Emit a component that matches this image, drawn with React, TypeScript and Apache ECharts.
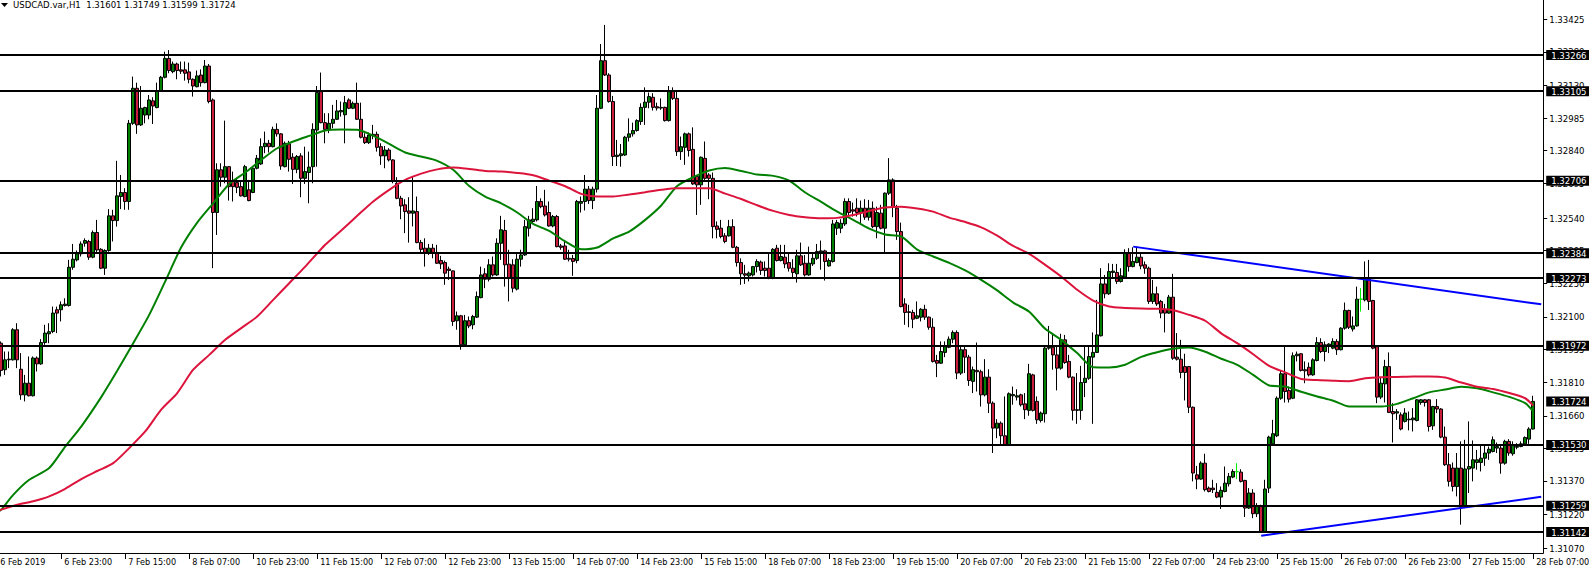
import React, { useEffect, useRef } from "react";
import * as echarts from "echarts";

const FONT = '"DejaVu Sans Condensed", "Liberation Sans", Arial, sans-serif';
const TITLE = "USDCAD.var,H1  1.31601 1.31749 1.31599 1.31724";

const X_TICK_STEP = 16;
const X_TICK_LABELS = [
  "6 Feb 2019", "6 Feb 23:00", "7 Feb 15:00", "8 Feb 07:00", "10 Feb 23:00", "11 Feb 15:00",
  "12 Feb 07:00", "12 Feb 23:00", "13 Feb 15:00", "14 Feb 07:00", "14 Feb 23:00", "15 Feb 15:00",
  "18 Feb 07:00", "18 Feb 23:00", "19 Feb 15:00", "20 Feb 07:00", "20 Feb 23:00", "21 Feb 15:00",
  "22 Feb 07:00", "24 Feb 23:00", "25 Feb 15:00", "26 Feb 07:00", "26 Feb 23:00", "27 Feb 15:00",
  "28 Feb 07:00",
];

const Y_TICKS = [
  1.3107, 1.3122, 1.3137, 1.31515, 1.3166, 1.3181, 1.31955, 1.321, 1.3225,
  1.32395, 1.3254, 1.32695, 1.3284, 1.32985, 1.3313, 1.3328, 1.33425,
];
const Y_MIN = 1.31049;
const Y_MAX = 1.33511;

const LEVELS = [1.33266, 1.33105, 1.32706, 1.32384, 1.32273, 1.31972, 1.3153, 1.31259, 1.31142];
const LAST_PRICE = 1.31724;

const TREND_UPPER = [[284, 1.32413], [386, 1.32156]];
const TREND_LOWER = [[316, 1.31126], [386, 1.31299]];

const EMPTY_BARS_RIGHT = 2;
const LIME_DOJI = [310, 341];

// [open, high, low, close], hourly bars from 6 Feb 07:00 to 28 Feb 07:00
const OHLC = [
  /*0*/[1.31950,1.31995,1.31930,1.31983],[1.31983,1.31991,1.31835,1.31862],[1.31865,1.31946,1.31842,1.31909],[1.31909,1.31946,1.31872,1.31912],
  /*4*/[1.31909,1.32050,1.31906,1.32043],[1.32043,1.32072,1.31872,1.31909],[1.31867,1.31939,1.31731,1.31753],[1.31753,1.31842,1.31724,1.31805],
  /*8*/[1.31805,1.31924,1.31746,1.31749],[1.31749,1.31924,1.31746,1.31917],[1.31917,1.31924,1.31857,1.31891],[1.31891,1.32001,1.31887,1.31986],
  /*12*/[1.31986,1.32065,1.31976,1.32028],[1.32025,1.32072,1.31983,1.32034],[1.32035,1.32146,1.32028,1.32117],[1.32132,1.32146,1.32028,1.32117],
  /*16*/[1.32132,1.32169,1.32080,1.32154],[1.32151,1.32183,1.32146,1.32157],[1.32151,1.32354,1.32146,1.32321],[1.32321,1.32425,1.32310,1.32357],
  /*20*/[1.32354,1.32396,1.32347,1.32381],[1.32381,1.32436,1.32369,1.32425],[1.32428,1.32450,1.32413,1.32440],[1.32436,1.32443,1.32354,1.32366],
  /*24*/[1.32366,1.32485,1.32361,1.32476],[1.32476,1.32532,1.32384,1.32398],[1.32401,1.32406,1.32313,1.32317],[1.32317,1.32401,1.32287,1.32396],
  /*28*/[1.32396,1.32580,1.32390,1.32550],[1.32550,1.32577,1.32436,1.32529],[1.32529,1.32795,1.32502,1.32639],[1.32636,1.32732,1.32580,1.32654],
  /*32*/[1.32654,1.32673,1.32577,1.32614],[1.32614,1.32977,1.32577,1.32962],[1.32962,1.33170,1.32955,1.33118],[1.33118,1.33143,1.32915,1.32955],
  /*36*/[1.32955,1.33128,1.32950,1.33029],[1.32999,1.33036,1.32962,1.33032],[1.32999,1.33088,1.32980,1.33066],[1.33062,1.33078,1.32959,1.33039],
  /*40*/[1.33032,1.33143,1.33029,1.33106],[1.33106,1.33173,1.33103,1.33167],[1.33167,1.33281,1.33162,1.33251],[1.33251,1.33288,1.33185,1.33197],
  /*44*/[1.33192,1.33237,1.33185,1.33226],[1.33226,1.33232,1.33158,1.33197],[1.33200,1.33237,1.33182,1.33194],[1.33200,1.33237,1.33152,1.33185],
  /*48*/[1.33191,1.33232,1.33140,1.33158],[1.33158,1.33162,1.33081,1.33128],[1.33125,1.33197,1.33122,1.33173],[1.33177,1.33202,1.33125,1.33143],
  /*52*/[1.33143,1.33244,1.33140,1.33217],[1.33217,1.33226,1.33051,1.33059],[1.33066,1.33073,1.32317,1.32565],[1.32565,1.32784,1.32465,1.32755],
  /*56*/[1.32755,1.32784,1.32680,1.32722],[1.32722,1.32974,1.32695,1.32769],[1.32769,1.32772,1.32618,1.32680],[1.32703,1.32747,1.32614,1.32680],
  /*60*/[1.32698,1.32717,1.32651,1.32677],[1.32680,1.32703,1.32636,1.32639],[1.32636,1.32777,1.32633,1.32769],[1.32666,1.32710,1.32615,1.32618],
  /*64*/[1.32654,1.32769,1.32651,1.32762],[1.32762,1.32821,1.32757,1.32806],[1.32781,1.32895,1.32777,1.32858],[1.32858,1.32925,1.32829,1.32873],
  /*68*/[1.32873,1.32888,1.32832,1.32858],[1.32858,1.32947,1.32855,1.32935],[1.32935,1.32962,1.32903,1.32915],[1.32915,1.32918,1.32755,1.32772],
  /*72*/[1.32769,1.32881,1.32766,1.32873],[1.32870,1.32884,1.32747,1.32802],[1.32811,1.32829,1.32692,1.32757],[1.32757,1.32821,1.32740,1.32814],
  /*76*/[1.32817,1.32829,1.32633,1.32717],[1.32717,1.32858,1.32692,1.32747],[1.32743,1.32836,1.32606,1.32767],[1.32769,1.32962,1.32695,1.32935],
  /*80*/[1.32932,1.33128,1.32769,1.33099],[1.33103,1.33188,1.32962,1.32965],[1.32965,1.33007,1.32873,1.32935],[1.32935,1.33007,1.32918,1.32962],
  /*84*/[1.32962,1.33044,1.32940,1.32980],[1.32980,1.33066,1.32977,1.33017],[1.33013,1.33059,1.32992,1.33019],[1.33000,1.33084,1.32873,1.33054],
  /*88*/[1.33066,1.33073,1.33025,1.33029],[1.33029,1.33059,1.33025,1.33051],[1.33051,1.33143,1.32977,1.32980],[1.32980,1.33054,1.32895,1.32900],
  /*92*/[1.32900,1.32918,1.32870,1.32876],[1.32876,1.32921,1.32870,1.32910],[1.32907,1.32955,1.32891,1.32913],[1.32913,1.32925,1.32836,1.32855],
  /*96*/[1.32858,1.32873,1.32777,1.32817],[1.32817,1.32861,1.32762,1.32843],[1.32843,1.32851,1.32792,1.32799],[1.32799,1.32802,1.32695,1.32703],
  /*100*/[1.32695,1.32722,1.32624,1.32628],[1.32628,1.32639,1.32535,1.32594],[1.32599,1.32624,1.32473,1.32569],[1.32572,1.32633,1.32431,1.32562],
  /*104*/[1.32562,1.32725,1.32503,1.32572],[1.32569,1.32636,1.32428,1.32431],[1.32431,1.32443,1.32384,1.32401],[1.32406,1.32450,1.32324,1.32387],
  /*108*/[1.32387,1.32425,1.32376,1.32406],[1.32406,1.32425,1.32361,1.32387],[1.32387,1.32421,1.32336,1.32339],[1.32351,1.32372,1.32313,1.32336],
  /*112*/[1.32342,1.32351,1.32243,1.32295],[1.32313,1.32324,1.32265,1.32307],[1.32305,1.32307,1.32060,1.32080],[1.32083,1.32124,1.32043,1.32105],
  /*116*/[1.32105,1.32109,1.31954,1.31976],[1.31976,1.32109,1.31971,1.32083],[1.32083,1.32102,1.32050,1.32060],[1.32065,1.32109,1.32045,1.32102],
  /*120*/[1.32099,1.32213,1.32095,1.32191],[1.32186,1.32324,1.32183,1.32287],[1.32292,1.32317,1.32228,1.32268],[1.32268,1.32357,1.32258,1.32332],
  /*124*/[1.32332,1.32369,1.32280,1.32287],[1.32287,1.32450,1.32283,1.32428],[1.32428,1.32550,1.32354,1.32488],[1.32485,1.32532,1.32235,1.32332],
  /*128*/[1.32335,1.32399,1.32169,1.32272],[1.32332,1.32357,1.32209,1.32228],[1.32224,1.32384,1.32218,1.32357],[1.32357,1.32399,1.32324,1.32376],
  /*132*/[1.32376,1.32532,1.32372,1.32502],[1.32495,1.32550,1.32458,1.32532],[1.32525,1.32584,1.32514,1.32535],[1.32532,1.32683,1.32525,1.32614],
  /*136*/[1.32614,1.32628,1.32584,1.32591],[1.32594,1.32666,1.32547,1.32554],[1.32565,1.32614,1.32502,1.32505],[1.32505,1.32554,1.32499,1.32547],
  /*140*/[1.32547,1.32554,1.32410,1.32413],[1.32416,1.32425,1.32399,1.32410],[1.32416,1.32443,1.32354,1.32357],[1.32361,1.32399,1.32347,1.32357],
  /*144*/[1.32360,1.32376,1.32283,1.32347],[1.32351,1.32621,1.32339,1.32614],[1.32606,1.32636,1.32565,1.32614],[1.32614,1.32732,1.32574,1.32669],
  /*148*/[1.32669,1.32683,1.32603,1.32618],[1.32618,1.32680,1.32580,1.32669],[1.32669,1.33088,1.32654,1.33029],[1.33029,1.33315,1.33025,1.33241],
  /*152*/[1.33241,1.33400,1.33173,1.33177],[1.33177,1.33185,1.33054,1.33059],[1.33059,1.33084,1.32772,1.32814],[1.32814,1.32888,1.32772,1.32820],
  /*156*/[1.32818,1.32870,1.32769,1.32826],[1.32821,1.32906,1.32817,1.32900],[1.32900,1.32984,1.32881,1.32915],[1.32915,1.32965,1.32903,1.32930],
  /*160*/[1.32930,1.32980,1.32925,1.32974],[1.32970,1.33051,1.32955,1.33033],[1.33033,1.33122,1.32955,1.33056],[1.33056,1.33099,1.33029,1.33081],
  /*164*/[1.33078,1.33096,1.33019,1.33033],[1.33036,1.33054,1.33019,1.33030],[1.33030,1.33073,1.33022,1.33033],[1.33033,1.33036,1.32970,1.32974],
  /*168*/[1.32974,1.33128,1.32970,1.33103],[1.33103,1.33122,1.33066,1.33073],[1.33073,1.33110,1.32817,1.32836],[1.32836,1.32903,1.32799,1.32858],
  /*172*/[1.32855,1.32921,1.32777,1.32915],[1.32915,1.32921,1.32814,1.32841],[1.32846,1.32944,1.32688,1.32692],[1.32725,1.32732,1.32554,1.32688],
  /*176*/[1.32688,1.32814,1.32599,1.32811],[1.32806,1.32881,1.32710,1.32717],[1.32732,1.32740,1.32624,1.32717],[1.32717,1.32743,1.32450,1.32502],
  /*180*/[1.32505,1.32525,1.32450,1.32490],[1.32495,1.32532,1.32450,1.32458],[1.32461,1.32473,1.32428,1.32436],[1.32461,1.32532,1.32458,1.32502],
  /*184*/[1.32502,1.32535,1.32406,1.32410],[1.32410,1.32416,1.32324,1.32342],[1.32342,1.32361,1.32243,1.32292],[1.32292,1.32332,1.32247,1.32286],
  /*188*/[1.32283,1.32302,1.32258,1.32295],[1.32287,1.32327,1.32280,1.32324],[1.32324,1.32357,1.32298,1.32347],[1.32344,1.32351,1.32287,1.32307],
  /*192*/[1.32317,1.32347,1.32280,1.32307],[1.32317,1.32387,1.32268,1.32277],[1.32272,1.32406,1.32268,1.32401],[1.32406,1.32421,1.32347,1.32351],
  /*196*/[1.32351,1.32421,1.32347,1.32369],[1.32366,1.32421,1.32317,1.32336],[1.32342,1.32384,1.32302,1.32317],[1.32317,1.32357,1.32277,1.32298],
  /*200*/[1.32292,1.32399,1.32253,1.32372],[1.32372,1.32431,1.32327,1.32332],[1.32339,1.32376,1.32280,1.32287],[1.32287,1.32413,1.32283,1.32339],
  /*204*/[1.32336,1.32384,1.32327,1.32361],[1.32361,1.32425,1.32354,1.32391],[1.32390,1.32440,1.32310,1.32394],[1.32394,1.32399,1.32262,1.32347],
  /*208*/[1.32327,1.32361,1.32324,1.32351],[1.32347,1.32532,1.32342,1.32514],[1.32495,1.32532,1.32465,1.32520],[1.32495,1.32535,1.32473,1.32517],
  /*212*/[1.32514,1.32628,1.32505,1.32614],[1.32614,1.32628,1.32547,1.32565],[1.32577,1.32609,1.32547,1.32571],[1.32584,1.32628,1.32547,1.32565],
  /*216*/[1.32565,1.32618,1.32517,1.32584],[1.32584,1.32624,1.32532,1.32544],[1.32544,1.32621,1.32529,1.32584],[1.32584,1.32614,1.32495,1.32502],
  /*220*/[1.32502,1.32591,1.32450,1.32565],[1.32562,1.32599,1.32490,1.32495],[1.32495,1.32654,1.32387,1.32651],[1.32651,1.32807,1.32643,1.32710],
  /*224*/[1.32710,1.32717,1.32544,1.32591],[1.32584,1.32599,1.32443,1.32480],[1.32480,1.32520,1.32143,1.32146],[1.32158,1.32183,1.32065,1.32120],
  /*228*/[1.32123,1.32154,1.32054,1.32120],[1.32120,1.32132,1.32050,1.32090],[1.32094,1.32169,1.32090,1.32105],[1.32099,1.32139,1.32080,1.32134],
  /*232*/[1.32134,1.32154,1.32087,1.32099],[1.32099,1.32102,1.32043,1.32054],[1.32054,1.32094,1.31897,1.31902],[1.31906,1.31931,1.31832,1.31894],
  /*236*/[1.31894,1.31991,1.31891,1.31946],[1.31942,1.31991,1.31921,1.31968],[1.31965,1.32013,1.31961,1.32001],[1.32001,1.32040,1.31983,1.32031],
  /*240*/[1.32031,1.32040,1.31823,1.31850],[1.31850,1.31971,1.31842,1.31954],[1.31954,1.31968,1.31850,1.31921],[1.31921,1.31931,1.31793,1.31817],
  /*244*/[1.31813,1.31879,1.31761,1.31865],[1.31862,1.31986,1.31768,1.31856],[1.31856,1.31865,1.31701,1.31753],[1.31753,1.31912,1.31746,1.31832],
  /*248*/[1.31832,1.31867,1.31672,1.31716],[1.31716,1.31724,1.31494,1.31605],[1.31605,1.31645,1.31560,1.31627],[1.31627,1.31635,1.31531,1.31571],
  /*252*/[1.31571,1.31746,1.31526,1.31531],[1.31531,1.31764,1.31526,1.31758],[1.31749,1.31790,1.31709,1.31755],[1.31743,1.31778,1.31728,1.31749],
  /*256*/[1.31753,1.31758,1.31701,1.31709],[1.31713,1.31761,1.31645,1.31687],[1.31684,1.31891,1.31660,1.31847],[1.31842,1.31847,1.31679,1.31684],
  /*260*/[1.31724,1.31746,1.31624,1.31642],[1.31639,1.31679,1.31630,1.31672],[1.31669,1.31968,1.31630,1.31961],[1.31961,1.32060,1.31954,1.31965],
  /*264*/[1.31965,1.32020,1.31865,1.31931],[1.31931,1.31968,1.31773,1.31872],[1.31872,1.32025,1.31865,1.31998],[1.31998,1.32020,1.31891,1.31897],
  /*268*/[1.31902,1.31931,1.31827,1.31832],[1.31832,1.31835,1.31639,1.31684],[1.31684,1.31850,1.31624,1.31687],[1.31684,1.31882,1.31642,1.31808],
  /*272*/[1.31808,1.31968,1.31743,1.31827],[1.31827,1.31968,1.31820,1.31924],[1.31921,1.32031,1.31624,1.31942],[1.31942,1.32176,1.31939,1.32020],
  /*276*/[1.32016,1.32317,1.32013,1.32247],[1.32247,1.32287,1.32183,1.32203],[1.32203,1.32339,1.32198,1.32302],[1.32298,1.32336,1.32277,1.32304],
  /*280*/[1.32298,1.32336,1.32247,1.32258],[1.32258,1.32317,1.32253,1.32283],[1.32277,1.32401,1.32272,1.32384],[1.32384,1.32406,1.32302,1.32324],
  /*284*/[1.32324,1.32410,1.32321,1.32347],[1.32342,1.32413,1.32339,1.32366],[1.32366,1.32384,1.32312,1.32327],[1.32332,1.32347,1.32292,1.32317],
  /*288*/[1.32317,1.32324,1.32158,1.32169],[1.32169,1.32265,1.32158,1.32203],[1.32203,1.32235,1.32149,1.32158],[1.32169,1.32176,1.32094,1.32117],
  /*292*/[1.32134,1.32158,1.32031,1.32117],[1.32117,1.32198,1.32114,1.32188],[1.32188,1.32292,1.31909,1.31916],[1.31921,1.32028,1.31906,1.31912],
  /*296*/[1.31912,1.31998,1.31827,1.31853],[1.31879,1.31936,1.31728,1.31853],[1.31879,1.31882,1.31672,1.31698],[1.31698,1.31701,1.31368,1.31405],
  /*300*/[1.31397,1.31437,1.31333,1.31378],[1.31378,1.31457,1.31375,1.31449],[1.31449,1.31491,1.31323,1.31331],[1.31338,1.31345,1.31319,1.31323],
  /*304*/[1.31338,1.31375,1.31316,1.31331],[1.31319,1.31360,1.31293,1.31298],[1.31298,1.31345,1.31245,1.31328],[1.31323,1.31434,1.31319,1.31360],
  /*308*/[1.31357,1.31405,1.31345,1.31390],[1.31387,1.31422,1.31382,1.31412],[1.31411,1.31449,1.31378,1.31411],[1.31409,1.31422,1.31363,1.31368],
  /*312*/[1.31372,1.31375,1.31209,1.31249],[1.31249,1.31338,1.31245,1.31316],[1.31316,1.31333,1.31204,1.31224],[1.31224,1.31271,1.31209,1.31256],
  /*316*/[1.31256,1.31264,1.31138,1.31141],[1.31141,1.31375,1.31138,1.31334],[1.31338,1.31571,1.31316,1.31565],[1.31535,1.31642,1.31526,1.31580],
  /*320*/[1.31571,1.31746,1.31565,1.31738],[1.31738,1.31862,1.31731,1.31847],[1.31847,1.31971,1.31719,1.31768],[1.31773,1.31790,1.31719,1.31734],
  /*324*/[1.31738,1.31942,1.31734,1.31927],[1.31927,1.31946,1.31902,1.31934],[1.31936,1.31939,1.31857,1.31862],[1.31865,1.31902,1.31805,1.31860],
  /*328*/[1.31876,1.31897,1.31835,1.31842],[1.31842,1.31916,1.31838,1.31909],[1.31906,1.32010,1.31902,1.31986],[1.31986,1.32005,1.31939,1.31946],
  /*332*/[1.31946,1.31991,1.31902,1.31976],[1.31971,1.31983,1.31939,1.31979],[1.31961,1.32005,1.31956,1.31991],[1.31991,1.32001,1.31931,1.31954],
  /*336*/[1.31954,1.32054,1.31951,1.32050],[1.32050,1.32164,1.32043,1.32129],[1.32129,1.32132,1.32046,1.32054],[1.32046,1.32102,1.32035,1.32060],
  /*340*/[1.32060,1.32235,1.32057,1.32179],[1.32179,1.32228,1.32124,1.32179],[1.32176,1.32347,1.32169,1.32268],[1.32268,1.32354,1.32131,1.32169],
  /*344*/[1.32173,1.32176,1.31956,1.31961],[1.31968,1.31971,1.31716,1.31743],[1.31743,1.31832,1.31734,1.31805],[1.31802,1.31909,1.31719,1.31879],
  /*348*/[1.31879,1.31942,1.31672,1.31675],[1.31679,1.31716,1.31541,1.31669],[1.31672,1.31690,1.31642,1.31678],[1.31664,1.31675,1.31595,1.31601],
  /*352*/[1.31635,1.31694,1.31630,1.31672],[1.31642,1.31679,1.31595,1.31645],[1.31642,1.31694,1.31590,1.31650],[1.31639,1.31734,1.31635,1.31731],
  /*356*/[1.31719,1.31734,1.31709,1.31731],[1.31731,1.31734,1.31701,1.31719],[1.31731,1.31734,1.31590,1.31612],[1.31615,1.31704,1.31597,1.31701],
  /*360*/[1.31701,1.31734,1.31672,1.31690],[1.31690,1.31694,1.31560,1.31565],[1.31565,1.31612,1.31437,1.31442],[1.31442,1.31494,1.31345,1.31368],
  /*364*/[1.31427,1.31452,1.31323,1.31345],[1.31345,1.31494,1.31301,1.31427],[1.31427,1.31546,1.31175,1.31253],[1.31253,1.31553,1.31249,1.31423],
  /*368*/[1.31423,1.31635,1.31316,1.31434],[1.31427,1.31550,1.31368,1.31464],[1.31452,1.31508,1.31420,1.31464],[1.31452,1.31526,1.31412,1.31471],
  /*372*/[1.31471,1.31526,1.31437,1.31494],[1.31494,1.31523,1.31464,1.31511],[1.31501,1.31568,1.31497,1.31553],[1.31516,1.31541,1.31494,1.31523],
  /*376*/[1.31516,1.31531,1.31402,1.31449],[1.31449,1.31553,1.31442,1.31546],[1.31546,1.31556,1.31482,1.31494],[1.31491,1.31546,1.31482,1.31531],
  /*380*/[1.31520,1.31538,1.31511,1.31523],[1.31523,1.31546,1.31520,1.31535],[1.31535,1.31568,1.31531,1.31563],[1.31556,1.31609,1.31535,1.31601],
  /*384*/[1.31601,1.31749,1.31599,1.31724],
];

// Moving averages: [bar index, value]
const MA_GREEN = [
  [0,1.31230],[1,1.31242],[4,1.31308],[8,1.31375],[13,1.31427],[17,1.31523],[21,1.31612],[26,1.31743],[30,1.31860],
  [34,1.31983],[38,1.32109],[42,1.32258],[46,1.32410],[50,1.32520],[54,1.32606],[58,1.32692],[62,1.32743],
  [66,1.32799],[70,1.32851],[74,1.32881],[78,1.32906],[82,1.32930],[86,1.32935],[90,1.32933],[94,1.32907],
  [98,1.32870],[102,1.32832],[106,1.32814],[110,1.32795],[114,1.32755],[118,1.32683],[122,1.32636],[126,1.32606],
  [130,1.32565],[134,1.32514],[138,1.32483],[142,1.32436],[146,1.32401],[150,1.32409],[154,1.32450],[158,1.32480],
  [162,1.32532],[166,1.32596],[170,1.32683],[174,1.32722],[178,1.32752],[182,1.32763],[186,1.32750],[190,1.32734],
  [194,1.32728],[198,1.32707],[202,1.32654],[206,1.32612],[210,1.32569],[214,1.32532],[218,1.32493],[222,1.32467],
  [226,1.32458],[230,1.32400],[234,1.32369],[238,1.32341],[242,1.32307],[246,1.32265],[250,1.32218],[254,1.32164],
  [258,1.32123],[262,1.32047],[266,1.31998],[270,1.31939],[274,1.31876],[278,1.31875],[282,1.31887],[286,1.31922],
  [290,1.31943],[294,1.31958],[298,1.31964],[302,1.31945],[306,1.31914],[310,1.31887],[314,1.31842],[318,1.31795],
  [322,1.31790],[326,1.31767],[330,1.31746],[334,1.31727],[338,1.31701],[342,1.31701],[346,1.31701],[350,1.31713],
  [354,1.31738],[358,1.31764],[362,1.31777],[366,1.31789],[370,1.31782],[374,1.31764],[378,1.31744],[382,1.31716],
  [384,1.31679],
];
const MA_RED = [
  [0,1.31235],[1,1.31242],[5,1.31264],[9,1.31279],[13,1.31301],[17,1.31335],[21,1.31378],[25,1.31414],[29,1.31449],
  [33,1.31516],[37,1.31590],[41,1.31687],[45,1.31761],[49,1.31865],[53,1.31931],[57,1.31998],[61,1.32050],
  [65,1.32102],[69,1.32176],[73,1.32250],[77,1.32324],[82,1.32421],[86,1.32485],[90,1.32550],[94,1.32614],
  [98,1.32666],[102,1.32710],[106,1.32738],[110,1.32757],[114,1.32765],[118,1.32759],[122,1.32750],[126,1.32747],
  [130,1.32741],[134,1.32731],[138,1.32707],[142,1.32682],[146,1.32648],[150,1.32636],[154,1.32636],[158,1.32645],
  [162,1.32655],[166,1.32666],[170,1.32673],[174,1.32673],[178,1.32673],[182,1.32649],[186,1.32625],[190,1.32597],
  [194,1.32572],[198,1.32554],[202,1.32544],[206,1.32539],[210,1.32541],[214,1.32554],[218,1.32572],[222,1.32587],
  [226,1.32591],[230,1.32583],[234,1.32569],[238,1.32542],[242,1.32523],[246,1.32499],[250,1.32462],[254,1.32416],
  [258,1.32381],[262,1.32332],[266,1.32280],[270,1.32221],[274,1.32173],[278,1.32146],[282,1.32140],[286,1.32137],
  [290,1.32136],[294,1.32130],[298,1.32109],[302,1.32083],[306,1.32027],[310,1.31983],[314,1.31934],[318,1.31882],
  [322,1.31853],[326,1.31824],[330,1.31819],[334,1.31816],[338,1.31814],[342,1.31827],[346,1.31832],[350,1.31833],
  [354,1.31835],[358,1.31835],[362,1.31830],[366,1.31808],[370,1.31789],[374,1.31779],[378,1.31761],[382,1.31738],
  [384,1.31705],
];

export default function App() {
  const ref = useRef<HTMLDivElement | null>(null);

  useEffect(() => {
    if (!ref.current) return;
    const chart = echarts.init(ref.current, undefined, { renderer: "svg" });

    const categories = Array.from({ length: OHLC.length + EMPTY_BARS_RIGHT }, (_, i) => String(i));
    const lime = "#00ee00";
    const candleData = OHLC.map(([o, h, l, c], i) => {
      const v = [o, c, l, h];
      if (LIME_DOJI.includes(i)) {
        return {
          value: v,
          itemStyle: { color: lime, color0: lime, borderColor: lime, borderColor0: lime, borderColorDoji: lime },
        };
      }
      return v;
    });
    const showTick = (i: number) => i % X_TICK_STEP === 0;

    const priceLabel = {
      show: true,
      position: "end",
      distance: 3,
      formatter: (p: any) => Number(p.value).toFixed(5),
      backgroundColor: "#000",
      color: "#fff",
      padding: [1, 4, 0, 5],
      fontSize: 9.5,
      lineHeight: 9,
      fontFamily: FONT,
    };

    chart.setOption({
      animation: false,
      backgroundColor: "#ffffff",
      grid: { left: -4.8, right: 45.8, top: 0, bottom: 15, containLabel: false, outerBoundsMode: "none" },
      xAxis: {
        type: "category",
        data: categories,
        boundaryGap: true,
        axisLine: { show: true, lineStyle: { color: "#000", width: 1 } },
        axisTick: { show: true, interval: showTick, alignWithLabel: true, length: 6, lineStyle: { color: "#000" } },
        axisLabel: {
          interval: showTick,
          formatter: (_v: string, i: number) => X_TICK_LABELS[i / X_TICK_STEP] ?? "",
          align: "left",
          padding: [0, 0, 0, 3],
          margin: 4,
          color: "#000",
          fontSize: 9,
          fontFamily: FONT,
        },
        splitLine: { show: false },
      },
      yAxis: {
        type: "value",
        position: "right",
        min: Y_MIN,
        max: Y_MAX,
        scale: true,
        axisLine: { show: true, lineStyle: { color: "#000", width: 1 } },
        axisTick: { show: true, customValues: Y_TICKS, length: 4, lineStyle: { color: "#000" } },
        axisLabel: {
          customValues: Y_TICKS,
          formatter: (v: number) => v.toFixed(5),
          margin: 6,
          color: "#000",
          fontSize: 9.5,
          fontFamily: FONT,
        },
        splitLine: { show: false },
      },
      graphic: [
        { type: "polygon", shape: { points: [[1, 3], [8, 3], [4.5, 7]] }, style: { fill: "#000" } },
        {
          type: "text",
          x: 13,
          y: -1,
          style: { text: TITLE, fill: "#000", fontSize: 9.5, fontFamily: FONT, verticalAlign: "top" },
        },
      ],
      series: [
        {
          type: "candlestick",
          name: "USDCAD",
          data: candleData,
          barWidth: 3,
          itemStyle: {
            color: "#008000",
            color0: "#c81e3c",
            borderColor: "#000",
            borderColor0: "#000",
            borderColorDoji: "#000",
            borderWidth: 1,
          },
          markLine: {
            silent: true,
            animation: false,
            precision: 5,
            symbol: ["none", "none"],
            lineStyle: { color: "#000", width: 2, type: "solid" },
            label: priceLabel,
            emphasis: { disabled: true },
            data: [
              ...LEVELS.map((v) => ({ yAxis: v })),
              { yAxis: LAST_PRICE, lineStyle: { color: "rgba(0,0,0,0)", width: 0 } },
            ],
          },
        },
        {
          type: "line",
          name: "MA fast",
          data: MA_GREEN,
          showSymbol: false,
          smooth: 0.25,
          lineStyle: { color: "#008000", width: 2 },
          silent: true,
        },
        {
          type: "line",
          name: "MA slow",
          data: MA_RED,
          showSymbol: false,
          smooth: 0.25,
          lineStyle: { color: "#dc143c", width: 2 },
          silent: true,
        },
        {
          type: "line",
          name: "Trend upper",
          data: TREND_UPPER,
          showSymbol: false,
          lineStyle: { color: "#0000ff", width: 2 },
          silent: true,
        },
        {
          type: "line",
          name: "Trend lower",
          data: TREND_LOWER,
          showSymbol: false,
          lineStyle: { color: "#0000ff", width: 2 },
          silent: true,
        },
      ],
    });

    return () => chart.dispose();
  }, []);

  return (
    <div
      ref={ref}
      style={{ position: "absolute", left: 0, top: 0, width: 1589, height: 568, background: "#fff" }}
    />
  );
}
